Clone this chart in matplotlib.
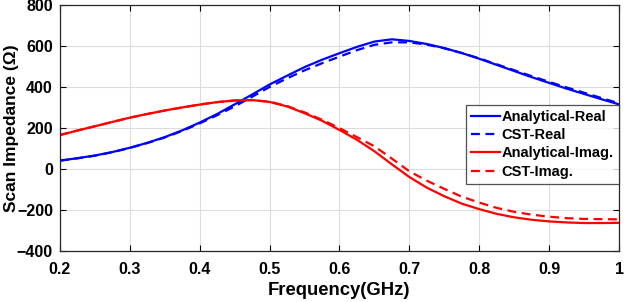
import numpy as np
import matplotlib
matplotlib.use('Agg')
import matplotlib.pyplot as plt

# frequency grid (GHz)
freq = [0.200, 0.225, 0.250, 0.275, 0.300, 0.325, 0.350, 0.375, 0.400, 0.425,
        0.450, 0.475, 0.500, 0.525, 0.550, 0.575, 0.600, 0.625, 0.650, 0.675,
        0.700, 0.725, 0.750, 0.775, 0.800, 0.825, 0.850, 0.875, 0.900, 0.925,
        0.950, 0.975, 1.000]

ana_real = [40, 52, 65, 82, 103, 127, 155, 188, 226, 268,
            315, 363, 412, 455, 497, 533, 565, 596, 622, 633,
            625, 610, 590, 566, 538, 508, 478, 448, 420, 392,
            366, 340, 315]
cst_real = [40, 51, 64, 81, 102, 126, 153, 185, 222, 262,
            305, 352, 400, 442, 481, 516, 548, 580, 606, 618,
            618, 607, 589, 566, 540, 511, 482, 453, 425, 398,
            372, 346, 320]
ana_imag = [165, 187, 208, 229, 250, 268, 285, 300, 314, 326,
            334, 336, 327, 305, 272, 235, 190, 142, 86, 22,
            -40, -92, -134, -170, -197, -220, -237, -249, -257, -262,
            -265, -265, -264]
cst_imag = [165, 187, 208, 229, 250, 268, 285, 300, 314, 326,
            334, 336, 328, 307, 276, 240, 199, 155, 110, 50,
            -12, -58, -98, -136, -165, -191, -210, -224, -234, -241,
            -245, -246, -247]

plt.rcParams['font.family'] = ['Liberation Sans', 'DejaVu Sans']
plt.rcParams['font.weight'] = 'bold'

fig = plt.figure(figsize=(6.24, 3.02), dpi=100)
ax = fig.add_axes([0.096, 0.170, 0.896, 0.813])

lw = 1.6
ax.plot(freq, ana_real, color='#0000ff', lw=lw, label='Analytical-Real')
ax.plot(freq, cst_real, color='#0000ff', lw=lw, ls=(0, (4, 2.5)), label='CST-Real')
ax.plot(freq, ana_imag, color='#ff0000', lw=lw, label='Analytical-Imag.')
ax.plot(freq, cst_imag, color='#ff0000', lw=lw, ls=(0, (4, 2.5)), label='CST-Imag.')

ax.set_xlim(0.2, 1.0)
ax.set_ylim(-400, 800)
ax.set_xticks([0.2, 0.3, 0.4, 0.5, 0.6, 0.7, 0.8, 0.9, 1.0])
ax.set_xticklabels(['0.2', '0.3', '0.4', '0.5', '0.6', '0.7', '0.8', '0.9', '1'])
ax.set_yticks([-400, -200, 0, 200, 400, 600, 800])
ax.grid(True, color='#dcdcdc', lw=0.8)
ax.tick_params(direction='in', top=True, right=True, labelsize=11.5, length=4)
ax.tick_params(axis='x', pad=8)
ax.tick_params(axis='y', pad=5)
for s in ax.spines.values():
    s.set_linewidth(0.9)
    s.set_color('#262626')

ax.set_xlabel('Frequency(GHz)', fontsize=13.3, fontweight='bold', labelpad=4)
ax.set_ylabel('Scan Impedance (Ω)', fontsize=12.5, fontweight='bold')
ax.yaxis.set_label_coords(-0.074, 0.5)

leg = ax.legend(loc='upper right', bbox_to_anchor=(1.0, 0.595), fontsize=10.5,
                frameon=True, fancybox=False, edgecolor='#262626',
                handlelength=2.0, handletextpad=0.1, borderpad=0.35,
                labelspacing=0.3, borderaxespad=0.0)
leg.get_frame().set_linewidth(0.9)

fig.savefig('out.png', dpi=100)
